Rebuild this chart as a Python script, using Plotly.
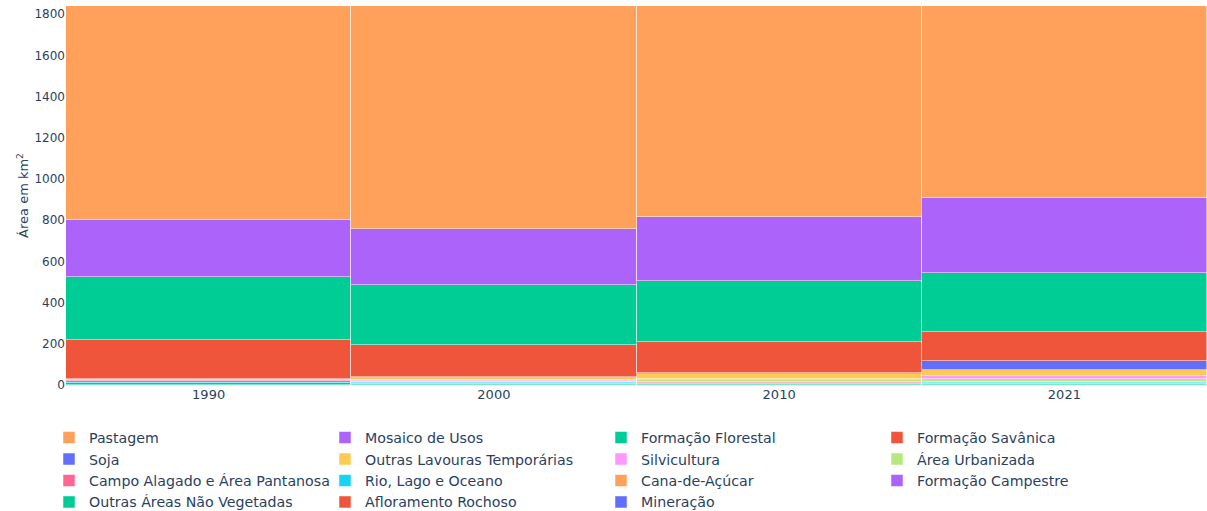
import plotly.graph_objects as go

years = ["1990", "2000", "2010", "2021"]

# stacking order: bottom -> top
categories = [
    "Mineração",
    "Afloramento Rochoso",
    "Outras Áreas Não Vegetadas",
    "Formação Campestre",
    "Cana-de-Açúcar",
    "Rio, Lago e Oceano",
    "Campo Alagado e Área Pantanosa",
    "Área Urbanizada",
    "Silvicultura",
    "Outras Lavouras Temporárias",
    "Soja",
    "Formação Savânica",
    "Formação Florestal",
    "Mosaico de Usos",
    "Pastagem",
]

mineracao = [0, 0.5, 0.5, 0.5]
afloramento = [1, 1, 1, 1]
outras_areas = [7, 2, 2, 2]
campestre = [0.5, 2, 2, 2]
cana = [0, 3, 3, 6]
rio = [11, 5, 3, 3]
campo_alagado = [3, 2, 2, 2]
urbanizada = [3, 6, 10, 11]
silvicultura = [1, 3, 8, 17]
outras_lavouras = [0.5, 12, 24, 26]
soja = [0, 2, 3, 48]
savanica = [190, 154, 149, 137]
florestal = [306, 293, 298, 287]
mosaico = [277, 272, 312, 365]
pastagem = [1040, 1083, 1024, 932]

series = [mineracao, afloramento, outras_areas, campestre, cana, rio,
          campo_alagado, urbanizada, silvicultura, outras_lavouras, soja,
          savanica, florestal, mosaico, pastagem]

palette = ["#636efa", "#EF553B", "#00cc96", "#ab63fa", "#FFA15A",
           "#19d3f3", "#FF6692", "#B6E880", "#FF97FF", "#FECB52"]

fig = go.Figure()
for i, (name, vals) in enumerate(zip(categories, series)):
    fig.add_bar(x=years, y=vals, name=name,
                marker=dict(color=palette[i % len(palette)],
                            line=dict(color="white", width=0.5)))

FONT = "Verdana, DejaVu Sans, sans-serif"
fig.update_layout(
    template="plotly_white",
    width=1207, height=511,
    barmode="stack", bargap=0,
    margin=dict(l=66, r=0, t=6, b=126),
    font=dict(family=FONT, size=13, color="#2a3f5f"),
    yaxis=dict(range=[0, 1840],
               title=dict(text="Área em km<sup>2</sup>", font=dict(size=13), standoff=2),
               tickfont=dict(size=12), dtick=200),
    xaxis=dict(tickfont=dict(size=13)),
    legend=dict(orientation="h", xref="container", yref="container",
                x=0.0406, xanchor="left", y=0.1745, yanchor="top",
                traceorder="reversed", font=dict(size=14.2), entrywidth=231,
                tracegroupgap=0),
)

fig.write_html("out.html", config={"responsive": False, "displayModeBar": False},
               post_script="document.body.style.margin='0';")
